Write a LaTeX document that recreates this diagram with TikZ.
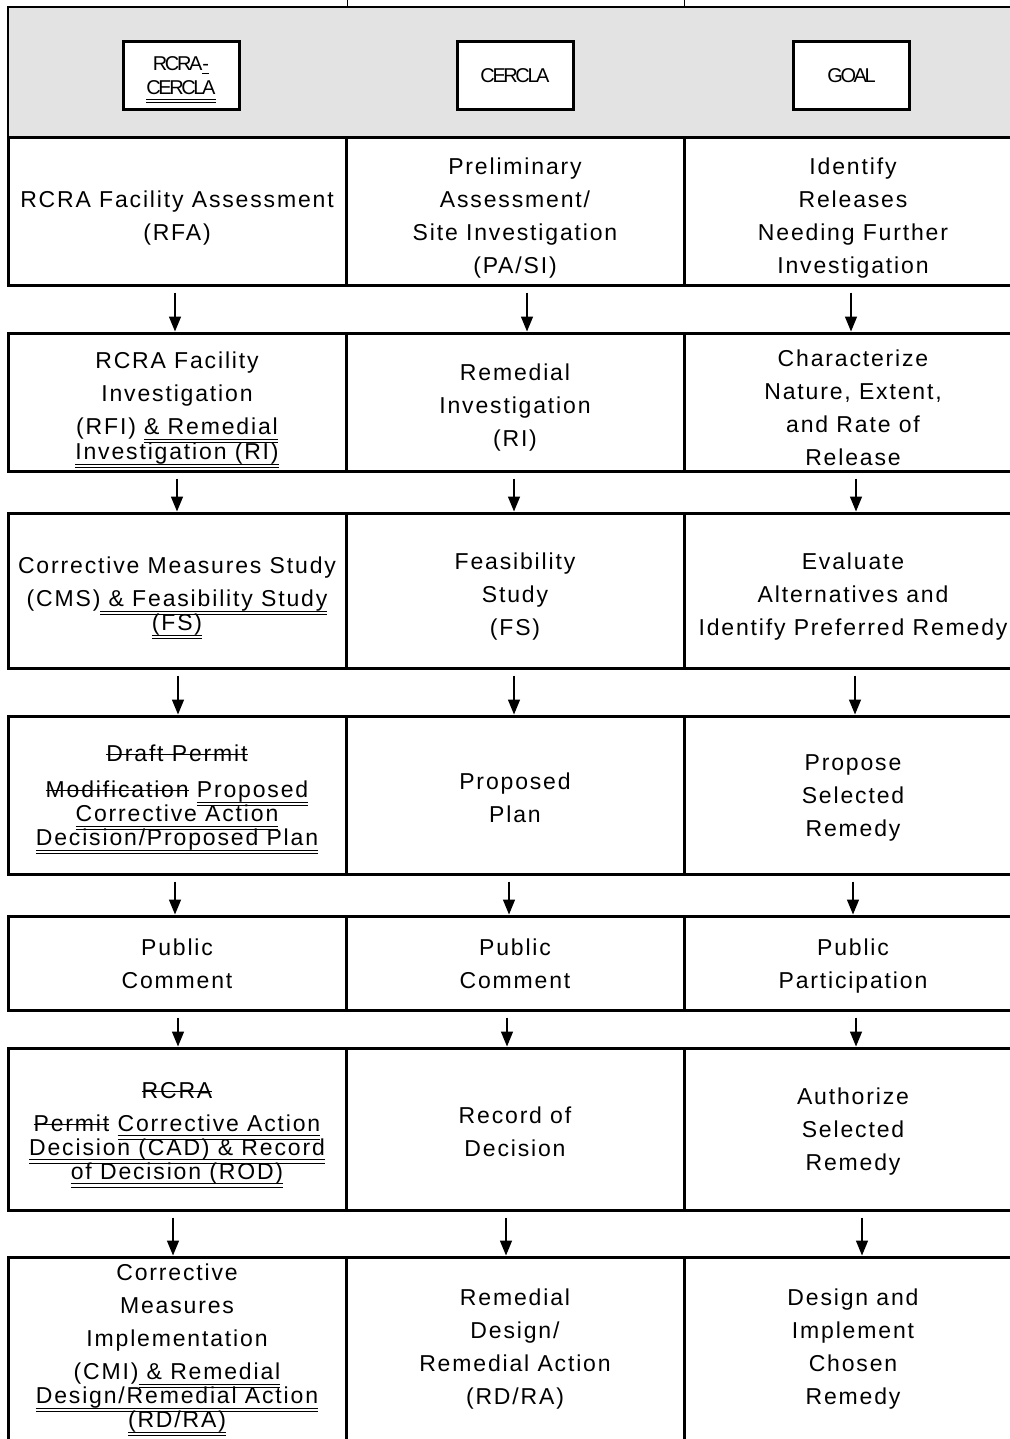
\documentclass[tikz,border=0pt]{standalone}
\usepackage{fontspec}
\setmainfont{Liberation Sans}[LetterSpace=8]
\newfontfamily\headfont{Liberation Sans}[LetterSpace=-12]
\usetikzlibrary{arrows.meta}
\definecolor{headgray}{RGB}{227,227,227}
% inserted text: double underline, deleted text: struck out
\newcommand{\newtext}[1]{\sbox0{#1}\leavevmode\rlap{\usebox0}\smash{\rlap{\rule[-2.5pt]{\wd0}{0.4pt}}\rule[-4.2pt]{\wd0}{0.4pt}}}
\newcommand{\oldtext}[1]{\sbox0{#1}\leavevmode\rlap{\usebox0}\smash{\rule[3pt]{\wd0}{0.6pt}}}

\begin{document}
\begin{tikzpicture}[x=0.5pt,y=-0.5pt,
  cell/.style={draw,line width=1.5pt,minimum width=169pt,inner sep=0pt},
  txt/.style={inner sep=0pt,align=center,font=\fontsize{11.5pt}{16.5pt}\selectfont},
  hbox/.style={draw,fill=white,line width=1.5pt,minimum width=58pt,minimum height=34pt,
    inner sep=0pt,align=center,font=\headfont\fontsize{10pt}{12pt}\selectfont},
  flow/.style={-{Triangle[length=7.5pt,width=6pt]},line width=0.75pt}]
\useasboundingbox (0,0) rectangle (1010,1439);
\clip (0,0) rectangle (1010,1439);
% header band
\fill[headgray] (8,7) rectangle (1022,138);
\draw[line width=1pt] (1022,7) -- (8,7) -- (8,138);
\draw[line width=0.5pt] (347,0) -- (347,7) (684,0) -- (684,7);
\node[hbox] (hrc) at (181,75.5) {RCRA\underline{-}\\\newtext{CERCLA}};
\node[hbox] (hce) at (515,75.5) {CERCLA};
\node[hbox] (hgo) at (851.5,75.5) {GOAL};
% table cells
\foreach \r/\y/\h in {1/211.5/73.5, 2/402/69, 3/590.5/77.5, 4/795/79, 5/963/47, 6/1129/81, 7/1351/94}
  \foreach \c/\x in {rc/177, ce/515, go/853}
    \node[cell,minimum height=\h pt] (\c\r) at (\x,\y) {};
% row 1
\node[txt] (rc1t) at (177,218) {RCRA Facility Assessment\\(RFA)};
\node[txt] (ce1t) at (515,218) {Preliminary\\Assessment/\\Site Investigation\\(PA/SI)};
\node[txt] (go1t) at (853,218) {Identify\\Releases\\Needing Further\\Investigation};
% row 2
\node[txt] (rc2t) at (177,408) {RCRA Facility\\Investigation\\(RFI) \newtext{\& Remedial}\\[-4pt]\newtext{Investigation (RI)}};
\node[txt] (ce2t) at (515,408) {Remedial\\Investigation\\(RI)};
\node[txt] (go2t) at (853,408) {Characterize\\Nature, Extent,\\and Rate of\\Release};
% row 3
\node[txt] (rc3t) at (177,596) {Corrective Measures Study\\(CMS)\newtext{ \& Feasibility Study}\\[-4.5pt]\newtext{(FS)}};
\node[txt] (ce3t) at (515,596.5) {Feasibility\\Study\\(FS)};
\node[txt] (go3t) at (853,596.5) {Evaluate\\Alternatives and\\Identify Preferred Remedy};
% row 4
\node[txt] (rc4t) at (177,797.5) {\oldtext{Draft Permit}\\[1.5pt]\oldtext{Modification} \newtext{Proposed}\\[-4.5pt]\newtext{Corrective Action}\\[-4.5pt]\newtext{Decision/Proposed Plan}};
\node[txt] (ce4t) at (515,798) {Proposed\\Plan};
\node[txt] (go4t) at (853,798) {Propose\\Selected\\Remedy};
% row 5
\node[txt] (rc5t) at (177,964) {Public\\Comment};
\node[txt] (ce5t) at (515,964) {Public\\Comment};
\node[txt] (go5t) at (853,966) {Public\\Participation};
% row 6
\node[txt] (rc6t) at (177,1133) {\oldtext{RCRA}\\\oldtext{Permit} \newtext{Corrective Action}\\[-4.5pt]\newtext{Decision (CAD) \& Record}\\[-4.5pt]\newtext{of Decision (ROD)}};
\node[txt] (ce6t) at (515,1132) {Record of\\Decision};
\node[txt] (go6t) at (853,1132) {Authorize\\Selected\\Remedy};
% row 7
\node[txt] (rc7t) at (177,1348) {Corrective\\Measures\\Implementation\\(CMI)\newtext{ \& Remedial}\\[-4.5pt]\newtext{Design/Remedial Action}\\[-4.5pt]\newtext{(RD/RA)}};
\node[txt] (ce7t) at (515,1349) {Remedial\\Design/\\Remedial Action\\(RD/RA)};
\node[txt] (go7t) at (853,1349) {Design and\\Implement\\Chosen\\Remedy};
% arrows between rows
\foreach \a/\b/\dx in {rc1/rc2/-1,ce1/ce2/6,go1/go2/-1,
                       rc2/rc3/0,ce2/ce3/-0.5,go2/go3/1.5,
                       rc3/rc4/0.5,ce3/ce4/-0.5,go3/go4/1,
                       rc4/rc5/-1,ce4/ce5/-3,go4/go5/0,
                       rc5/rc6/0.5,ce5/ce6/-4,go5/go6/1.5,
                       rc6/rc7/-2,ce6/ce7/-4.5,go6/go7/4.5}
  \draw[flow] ([xshift=\dx pt,yshift=-3pt]\a.south) -- ([xshift=\dx pt]\b.north);
\end{tikzpicture}
\end{document}
